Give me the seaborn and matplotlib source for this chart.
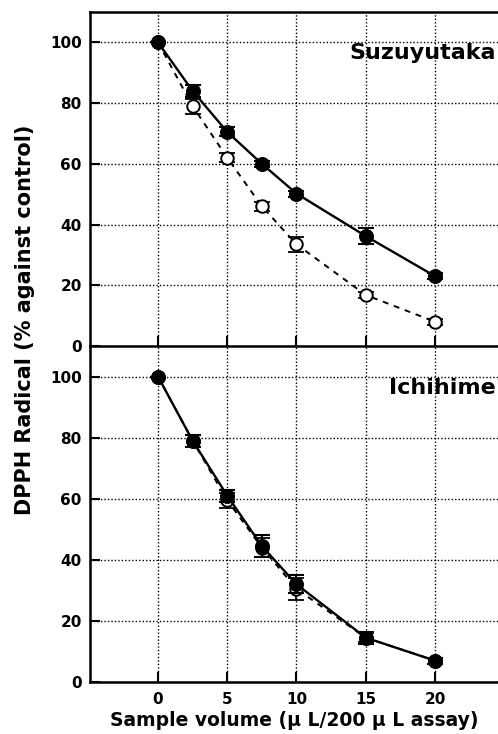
import matplotlib
matplotlib.use("Agg")
import matplotlib.pyplot as plt
import seaborn as sns
import pandas as pd

volume = [0, 2.5, 5, 7.5, 10, 15, 20]

suzu_filled = [100, 84, 70.5, 60, 50.2, 36.2, 23]
suzu_filled_err = [0, 2, 1.5, 1, 1, 2.5, 1]
suzu_open = [100, 79, 62, 46, 33.5, 16.8, 8]
suzu_open_err = [0, 2.5, 1.5, 1.5, 2.5, 1, 1]

ichi_filled = [100, 79, 61, 44.5, 32, 14.5, 7]
ichi_filled_err = [0, 2, 2, 3.5, 3, 2, 1]
ichi_open = [100, 79, 59.5, 44, 30.5, 14.5, 7]
ichi_open_err = [0, 2, 2.5, 3, 3.5, 1.5, 1]

panel_titles = ["Suzuyutaka", "Ichihime"]
x_ticks = [0, 5, 10, 15, 20]
y_ticks = [0, 20, 40, 60, 80, 100]

sns.set_style("ticks")
plt.rcParams["font.family"] = ["DejaVu Sans"]
plt.rcParams["font.weight"] = "bold"
plt.rcParams["text.color"] = "black"
plt.rcParams["axes.labelcolor"] = "black"
plt.rcParams["xtick.color"] = "black"
plt.rcParams["ytick.color"] = "black"

fig = plt.figure(figsize=(4.98, 7.34), dpi=100)
left = 90 / 498
width = 1 - left
ax_top = fig.add_axes([left, 1 - 346 / 734, width, (346 - 12) / 734])
ax_bot = fig.add_axes([left, 1 - 682 / 734, width, (682 - 346) / 734])
ax_bot.patch.set_alpha(0)

panels = [
    (ax_top, suzu_filled, suzu_filled_err, suzu_open, suzu_open_err, panel_titles[0], 110, 0.877),
    (ax_bot, ichi_filled, ichi_filled_err, ichi_open, ichi_open_err, panel_titles[1], 110, 0.875),
]

for ax, yf, ef, yo, eo, title, ytop, ty in panels:
    df_o = pd.DataFrame({"x": volume, "y": yo})
    df_f = pd.DataFrame({"x": volume, "y": yf})
    ax.set_xlim(-4.91, 24.55)
    ax.set_ylim(0, ytop)
    ax.set_xticks(x_ticks)
    ax.set_yticks(y_ticks)
    ax.grid(True, color="black", linestyle=(0, (1, 1.5)), linewidth=1.0)
    ax.set_axisbelow(True)
    # open series
    ax.errorbar(volume, yo, yerr=eo, fmt="none", ecolor="black", elinewidth=1.3,
                capsize=6, capthick=1.3, zorder=3)
    sns.lineplot(data=df_o, x="x", y="y", ax=ax, color="black", linewidth=1.4,
                 linestyle=(0, (3, 3)), marker="o", markersize=9,
                 markerfacecolor="white", markeredgecolor="black",
                 markeredgewidth=1.4, zorder=4)
    # filled series
    ax.errorbar(volume, yf, yerr=ef, fmt="none", ecolor="black", elinewidth=1.5,
                capsize=6, capthick=1.5, zorder=5)
    sns.lineplot(data=df_f, x="x", y="y", ax=ax, color="black", linewidth=1.7,
                 marker="o", markersize=10, markerfacecolor="black",
                 markeredgecolor="black", zorder=6)
    ax.text(0.995, ty, title, transform=ax.transAxes, color="black",
            ha="right", va="center", fontsize=16, fontweight="bold")
    for s in ["left", "bottom", "top"]:
        ax.spines[s].set_linewidth(1.8)
        ax.spines[s].set_color("black")
    ax.spines["right"].set_visible(False)
    ax.tick_params(direction="in", length=7, width=1.5, labelsize=11, colors="black",
                   top=False, right=False, pad=6)
    for lab in ax.get_yticklabels():
        lab.set_fontweight("bold")
    ax.set_xlabel("")
    ax.set_ylabel("")

ax_top.tick_params(labelbottom=False)
ax_bot.spines["top"].set_visible(False)
for lab in ax_bot.get_xticklabels():
    lab.set_fontweight("bold")
ax_bot.tick_params(axis="x", pad=7)

ax_bot.set_xlabel("Sample volume (μ L/200 μ L assay)", fontsize=13.5, fontweight="bold",
                  labelpad=3, color="black")
fig.text(0.05, 1 - 320 / 734, "DPPH Radical (% against control)", rotation=90,
         ha="center", va="center", fontsize=15, fontweight="bold", color="black")

fig.savefig("out.png", dpi=100)
